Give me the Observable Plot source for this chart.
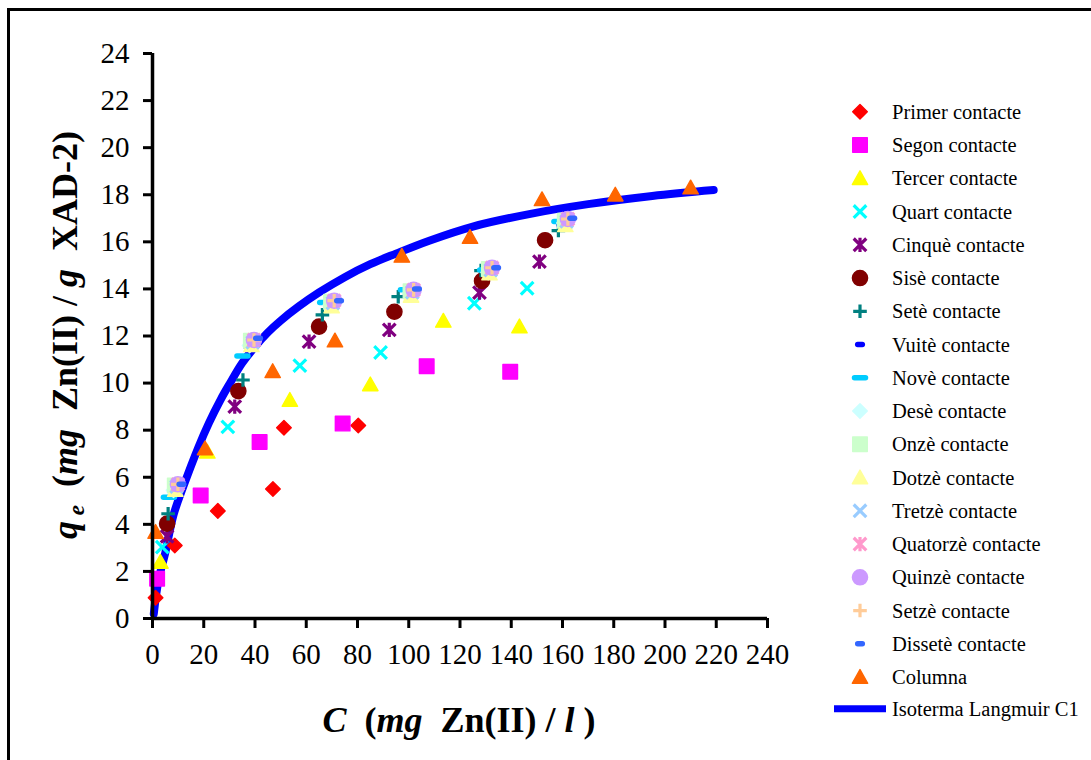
<!DOCTYPE html>
<html><head><meta charset="utf-8">
<script src="https://cdn.jsdelivr.net/npm/d3@7"></script>
<script src="https://cdn.jsdelivr.net/npm/@observablehq/plot@0.6"></script>
<style>
html,body{margin:0;padding:0;background:#fff;}
#wrap{position:relative;width:1091px;height:760px;overflow:hidden;background:#fff;}
#frame{position:absolute;left:7px;top:8px;width:1110px;height:780px;border:3px solid #000;box-sizing:border-box;}
#chart{position:absolute;left:0;top:0;}
#overlay{position:absolute;left:0;top:0;pointer-events:none;}
</style></head><body>
<div id="wrap"><div id="frame"></div><div id="chart"></div><svg id="overlay" width="1091" height="760"></svg></div>
<script>
// ---- data: [C (mg Zn(II)/l), qe (mg Zn(II)/g XAD-2)] ----
const primer   = [[1.2,0.88],[8.7,3.1],[25.5,4.57],[47.0,5.5],[51.3,8.1],[80.3,8.2]];
const segon    = [[1.8,1.69],[18.8,5.23],[41.8,7.5],[74.2,8.28],[107.0,10.72],[139.6,10.48]];
const tercer   = [[3.1,2.4],[21.4,7.08],[53.6,9.28],[85.0,9.94],[113.5,12.64],[143.2,12.4]];
const quart    = [[3.8,3.03],[29.4,8.14],[57.5,10.74],[89.0,11.3],[125.6,13.39],[146.2,14.03]];
const cinque   = [[5.7,3.49],[32.1,9.0],[61.1,11.76],[92.4,12.26],[127.6,13.84],[151.0,15.16]];
const sise     = [[5.7,4.03],[33.5,9.66],[65.0,12.4],[94.4,13.03],[128.6,14.34],[153.2,16.07]];
const sete     = [[6.1,4.45],[35.3,10.13],[66.3,12.9],[95.9,13.67],[128.2,14.78],[158.4,16.48]];
const vuite    = [[7.6,5.45],[37.3,11.55],[68.5,13.28],[99.6,13.72],[130.2,14.65],[159.6,16.72]];
const nove     = [[6.4,5.15],[35.1,11.15],[67.4,13.42],[98.9,13.96],[129.8,14.8],[158.8,16.86]];
const dese     = [[8.2,5.45],[37.9,11.6],[69.3,13.3],[100.4,13.8],[131.0,14.7],[160.6,16.8]];
const onze     = [[8.7,5.65],[38.4,11.8],[69.7,13.45],[100.7,13.9],[131.3,14.85],[160.9,16.9]];
const dotze    = [[8.9,5.45],[38.6,11.6],[69.9,13.25],[100.9,13.7],[131.5,14.65],[161.1,16.7]];
const tretze   = [[9.4,5.6],[39.1,11.73],[70.4,13.4],[101.4,13.86],[132.0,14.8],[161.6,16.87]];
const quatorze = [[9.9,5.7],[39.6,11.83],[70.9,13.5],[101.9,13.96],[132.5,14.9],[162.1,16.97]];
const quinze   = [[9.9,5.7],[39.6,11.83],[70.9,13.5],[101.9,13.96],[132.5,14.9],[162.1,16.97]];
const setze    = [[9.9,5.7],[39.6,11.83],[70.9,13.5],[101.9,13.96],[132.5,14.9],[162.1,16.97]];
const dissete  = [[11.3,5.7],[41.2,11.9],[72.8,13.5],[103.2,14.0],[134.1,14.9],[163.8,17.0]];
const columna  = [[1.2,3.67],[20.5,7.22],[46.9,10.5],[71.2,11.8],[97.3,15.4],[123.9,16.2],[152.0,17.8],[180.6,18.0],[210.0,18.3]];
const langmuirC = [0.5,2.3,5,8.2,12,18,22,26.6,30,35,40,45,50,57,65,75,85,95,108,125,148,170,195,219];
const langmuirQ = [0.2,1.6,2.8,4.4,5.6,7.3,8.3,9.3,9.95,10.85,11.55,12.15,12.65,13.25,13.85,14.5,15.05,15.5,16.05,16.65,17.2,17.6,17.95,18.2];

const seriesNames = ["Primer contacte","Segon contacte","Tercer contacte","Quart contacte","Cinquè contacte","Sisè contacte","Setè contacte","Vuitè contacte","Novè contacte","Desè contacte","Onzè contacte","Dotzè contacte","Tretzè contacte","Quatorzè contacte","Quinzè contacte","Setzè contacte","Dissetè contacte","Columna"];
const seriesColors = ["#FF0000","#FF00FF","#FFFF00","#00FFFF","#800080","#800000","#008080","#0000FF","#00CCFF","#CCFFFF","#CCFFCC","#FFFF99","#99CCFF","#FF99CC","#CC99FF","#FFCC99","#3366FF","#FF6600"];
const seriesShapes = ["diamond","square","triangle","times","asterisk","circle","plus","dashS","dashL","diamond","square","triangle","times","asterisk","circle","plus","dashS","triangle"];
const seriesData = [primer,segon,tercer,quart,cinque,sise,sete,vuite,nove,dese,onze,dotze,tretze,quatorze,quinze,setze,dissete,columna];
const lineName = "Isoterma Langmuir C1", lineColor = "#0000FF";
const xTicks = [0,20,40,60,80,100,120,140,160,180,200,220,240];
const yTicks = [0,2,4,6,8,10,12,14,16,18,20,22,24];

const langmuir = langmuirC.map((c, i) => ({c, q: langmuirQ[i]}));

// ---- marker shapes ----
const SYM = {
  diamond:{draw(c){const r=7.3;c.moveTo(0,-r);c.lineTo(r,0);c.lineTo(0,r);c.lineTo(-r,0);c.closePath();}},
  square:{draw(c){const h=7.3;c.moveTo(-h,-h);c.lineTo(h,-h);c.lineTo(h,h);c.lineTo(-h,h);c.closePath();}},
  triangle:{draw(c){c.moveTo(0,-7.5);c.lineTo(7.7,6.2);c.lineTo(-7.7,6.2);c.closePath();}},
  circle:{draw(c){c.moveTo(7.6,0);c.arc(0,0,7.6,0,2*Math.PI);c.closePath();}},
  times:{draw(c){const r=6.3;c.moveTo(-r,-r);c.lineTo(r,r);c.moveTo(-r,r);c.lineTo(r,-r);}},
  asterisk:{draw(c){const r=6.3;c.moveTo(-r,-r);c.lineTo(r,r);c.moveTo(-r,r);c.lineTo(r,-r);c.moveTo(0,-r-0.8);c.lineTo(0,r+0.8);}},
  plus:{draw(c){const r=6.8;c.moveTo(-r,0);c.lineTo(r,0);c.moveTo(0,-r);c.lineTo(0,r);}},
  dashS:{draw(c){c.moveTo(-2.3,0);c.lineTo(2.3,0);}},
  dashL:{draw(c){c.moveTo(-5.5,0);c.lineTo(5.5,0);}}
};
const FILLED = new Set(["diamond","square","triangle","circle"]);
const DASH = new Set(["dashS","dashL"]);
function styleFor(shape, color){
  if (FILLED.has(shape)) return {fill: color, stroke: color, strokeWidth: 1.4, strokeLinejoin: "round"};
  if (DASH.has(shape)) return {fill: "none", stroke: color, strokeWidth: 5.5, strokeLinecap: "round"};
  return {fill: "none", stroke: color, strokeWidth: 3.2, strokeLinecap: "butt"};
}

const dotMarks = seriesData.map((data, i) => {
  const st = styleFor(seriesShapes[i], seriesColors[i]);
  return Plot.dot(data, {x: d => d[0], y: d => d[1], symbol: SYM[seriesShapes[i]], r: 5, ...st});
});

const FONT = "'Liberation Serif','Times New Roman',serif";
const chart = Plot.plot({
  width: 1091, height: 760,
  marginLeft: 152, marginRight: 324, marginTop: 53, marginBottom: 142,
  style: {fontFamily: FONT, background: "transparent", color: "#000", overflow: "visible"},
  x: {domain: [0, 240]},
  y: {domain: [0, 24]},
  marks: [
    Plot.line(langmuir, {x: "c", y: "q", stroke: lineColor, strokeWidth: 8, curve: "catmull-rom"}),
    ...dotMarks,
    Plot.ruleY([0], {stroke: "#000", strokeWidth: 3.5}),
    Plot.ruleX([0], {stroke: "#000", strokeWidth: 3.5}),
    Plot.axisX(xTicks, {tickSize: 10, tickPadding: 15, fontSize: 29, fontFamily: FONT, strokeWidth: 3, label: null, tickFormat: d => String(d)}),
    Plot.axisY(yTicks, {tickSize: 9, tickPadding: 14, fontSize: 29, fontFamily: FONT, strokeWidth: 3, label: null, tickFormat: d => String(d)})
  ]
});
document.getElementById("chart").appendChild(chart);

// ---- overlay: axis titles and legend ----
const ov = d3.select("#overlay");

const xt = ov.append("text").attr("x", 459).attr("y", 732).attr("text-anchor", "middle")
  .attr("font-family", FONT).attr("font-size", 36).attr("font-weight", "bold").style("white-space", "pre");
[["C",1],["  (",0],["mg",1],["  Zn(II) / ",0],["l",1],[" )",0]].forEach(([t, it]) =>
  xt.append("tspan").attr("font-style", it ? "italic" : "normal").text(t));

const yt = ov.append("text").attr("transform", "translate(77,335) rotate(-90)").attr("text-anchor", "middle")
  .attr("font-family", FONT).attr("font-size", 36).attr("font-weight", "bold").style("white-space", "pre");
yt.append("tspan").attr("font-style", "italic").text("q");
yt.append("tspan").attr("font-style", "italic").attr("font-size", 23).attr("dy", 7).text(" e");
yt.append("tspan").attr("dy", -7).text("  (");
yt.append("tspan").attr("font-style", "italic").text("mg");
yt.append("tspan").text("  Zn(II) / ");
yt.append("tspan").attr("font-style", "italic").text("g");
yt.append("tspan").text("  XAD-2)");

const legY0 = 111.8, legDY = 33.25, legSymX = 860, legTextX = 892;
seriesNames.forEach((name, i) => {
  const y = legY0 + i * legDY;
  const p = d3.path(); SYM[seriesShapes[i]].draw(p);
  const st = styleFor(seriesShapes[i], seriesColors[i]);
  ov.append("path").attr("d", p.toString()).attr("transform", `translate(${legSymX},${y})`)
    .attr("fill", st.fill).attr("stroke", st.stroke).attr("stroke-width", st.strokeWidth)
    .attr("stroke-linecap", st.strokeLinecap || "butt").attr("stroke-linejoin", st.strokeLinejoin || "miter");
  ov.append("text").attr("x", legTextX).attr("y", y + 7).attr("font-family", FONT).attr("font-size", 20.5).text(name);
});
{
  const y = legY0 + seriesNames.length * legDY - 1.5;
  ov.append("line").attr("x1", 834).attr("x2", 886).attr("y1", y).attr("y2", y).attr("stroke", lineColor).attr("stroke-width", 7);
  ov.append("text").attr("x", legTextX).attr("y", y + 7).attr("font-family", FONT).attr("font-size", 20.5).text(lineName);
}
</script>
</body></html>
